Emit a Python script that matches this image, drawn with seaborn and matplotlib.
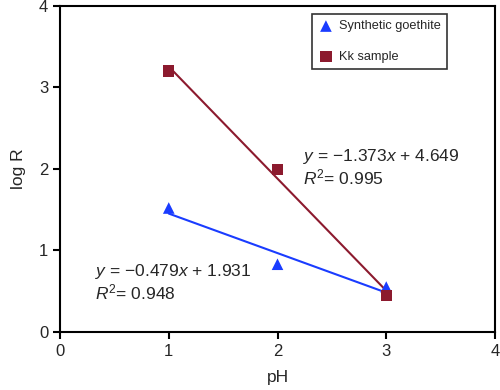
import matplotlib
matplotlib.use("Agg")
import matplotlib.pyplot as plt
import seaborn as sns
import pandas as pd
import numpy as np

ph = [1, 2, 3]
goethite = [1.52, 0.83, 0.55]
kk = [3.20, 1.99, 0.45]
labels = ["Synthetic goethite", "Kk sample"]
eq_kk = ["$y$ = \u22121.373$x$ + 4.649", "$R^2$= 0.995"]
eq_g = ["$y$ = \u22120.479$x$ + 1.931", "$R^2$= 0.948"]
ticks = [0, 1, 2, 3, 4]

sns.set_theme(style="ticks")
plt.rcParams["font.family"] = ["Liberation Sans", "DejaVu Sans"]
plt.rcParams["mathtext.fontset"] = "custom"
plt.rcParams["mathtext.rm"] = "Liberation Sans"
plt.rcParams["mathtext.it"] = "Liberation Sans:italic"

blue = "#1a3cff"
red = "#8c1a2e"

fig = plt.figure(figsize=(5, 3.9), dpi=100)
ax = fig.add_axes([0.12, 0.149, 0.87, 0.836])

df_g = pd.DataFrame({"pH": ph, "logR": goethite})
df_k = pd.DataFrame({"pH": ph, "logR": kk})

sns.regplot(data=df_g, x="pH", y="logR", ci=None, scatter=False, truncate=True,
            color=blue, line_kws={"lw": 1.5}, ax=ax)
sns.regplot(data=df_k, x="pH", y="logR", ci=None, scatter=False, truncate=True,
            color=red, line_kws={"lw": 1.5}, ax=ax)
sns.scatterplot(data=df_g, x="pH", y="logR", marker="^", color=blue, s=70,
                edgecolor="none", label=labels[0], ax=ax, zorder=3)
sns.scatterplot(data=df_k, x="pH", y="logR", marker="s", color=red, s=65,
                edgecolor="none", label=labels[1], ax=ax, zorder=3)

ax.set_xlim(0, 4)
ax.set_ylim(0, 4)
ax.set_xticks(ticks)
ax.set_yticks(ticks)
ax.tick_params(direction="out", length=5, width=1.5, labelsize=12, color="black")
for s in ax.spines.values():
    s.set_linewidth(1.5)
    s.set_color("black")
    s.set_visible(True)
ax.set_xlabel("pH", fontsize=12.5, labelpad=8)
ax.set_ylabel("log R", fontsize=12.5, labelpad=9)

ax.text(2.23, 2.15, eq_kk[0], fontsize=12.5, va="center")
ax.text(2.23, 1.89, eq_kk[1], fontsize=12.5, va="center")
ax.text(0.32, 0.74, eq_g[0], fontsize=12.5, va="center")
ax.text(0.32, 0.48, eq_g[1], fontsize=12.5, va="center")

leg = ax.legend(loc="upper left", bbox_to_anchor=(0.579, 0.975), frameon=True,
                fancybox=False, edgecolor="black", fontsize=9.2, labelspacing=1.45,
                handletextpad=0.4, borderpad=0.5, handlelength=1.2,
                borderaxespad=0)
leg.get_frame().set_linewidth(1.2)

fig.savefig("out.png", dpi=100)
